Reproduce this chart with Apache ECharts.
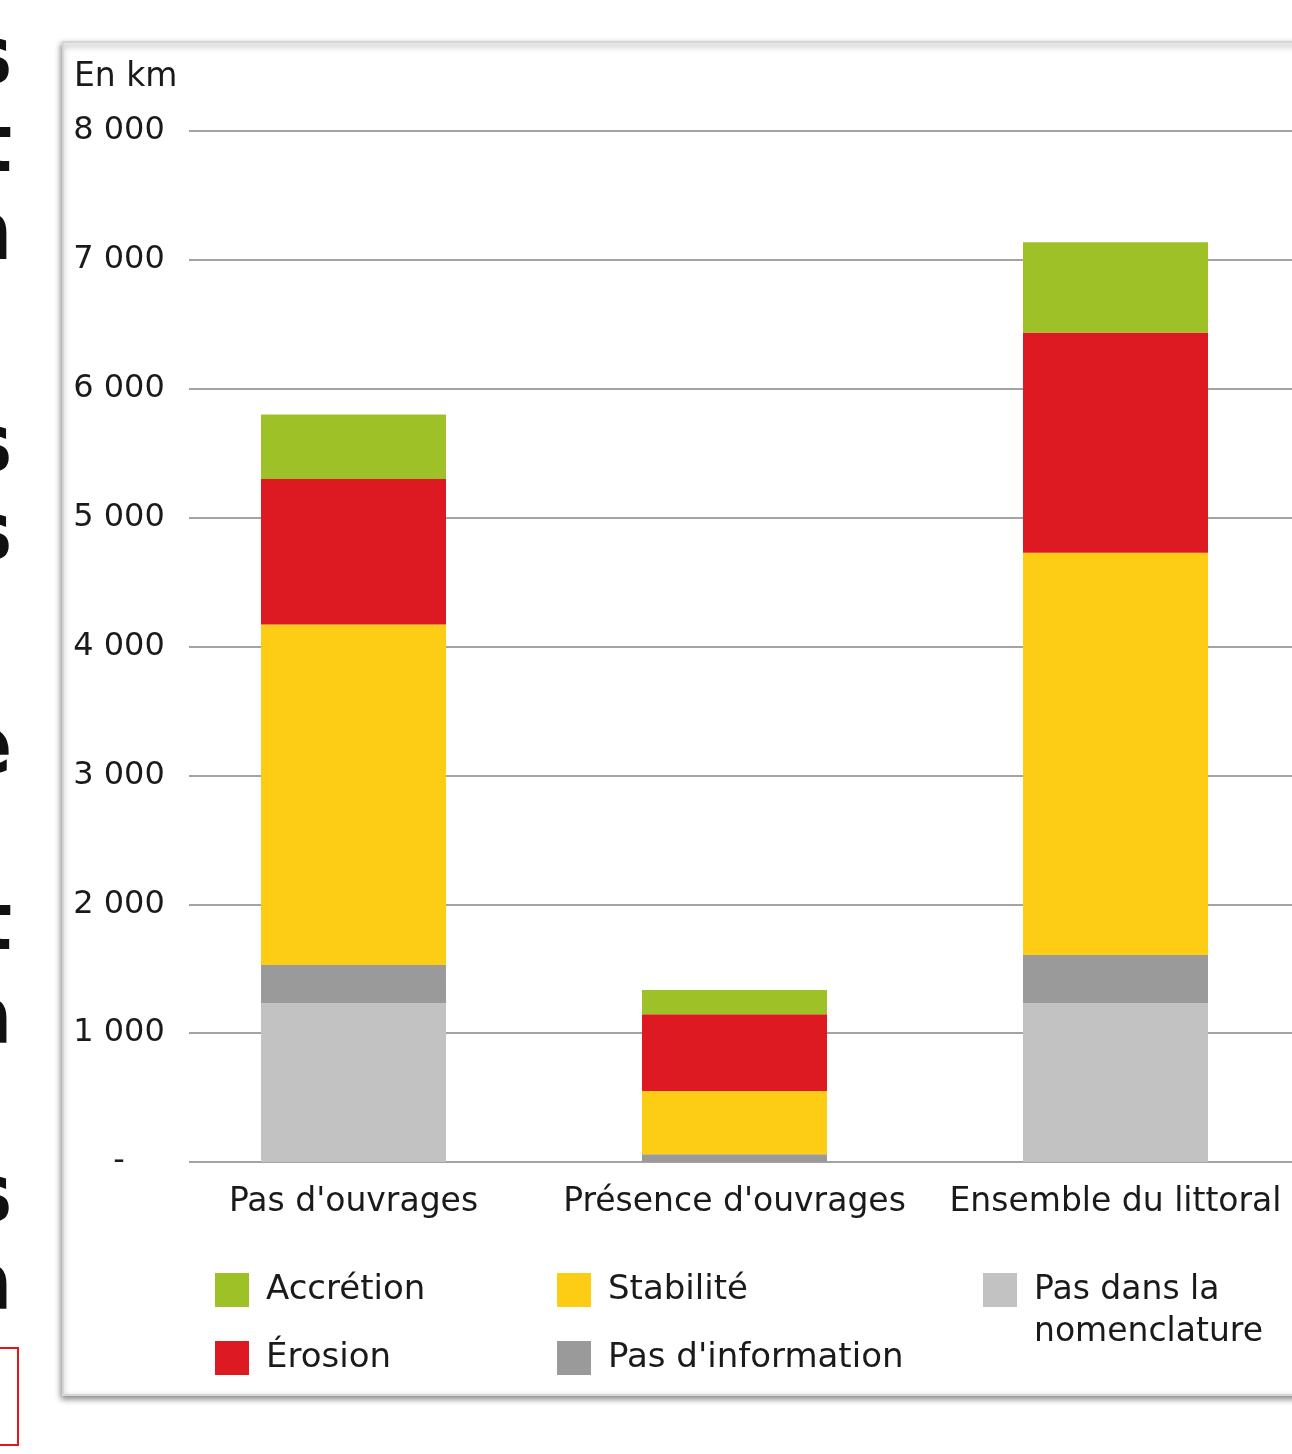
<!DOCTYPE html>
<html>
<head>
<meta charset="utf-8">
<script src="https://cdn.jsdelivr.net/npm/echarts@6/dist/echarts.min.js"></script>
<style>
  html, body { margin: 0; padding: 0; background: #ffffff; }
  #chart { width: 1292px; height: 1454px; }
</style>
</head>
<body>
<div id="chart"></div>
<script>
// Categories of coastline
const categories = ["Pas d'ouvrages", "Présence d'ouvrages", "Ensemble du littoral"];

// Lengths in km, stacked bottom to top
const pasNomenclature = [1232, 0, 1232];
const pasInformation  = [297, 60, 374];
const stabilite       = [2641, 491, 3122];
const erosion         = [1129, 595, 1708];
const accretion       = [502, 189, 700];

const yTicks = { min: 0, max: 8000, interval: 1000 };

const FONT = "'DejaVu Sans', sans-serif";
const TEXT = '#1a1a1a';

const colors = {
  accretion: '#9fc128',
  erosion: '#dd1a21',
  stabilite: '#fdcd16',
  pasInformation: '#9a9a9a',
  pasNomenclature: '#c2c2c2'
};

function thousands(v) {
  if (v === 0) return '-';
  return String(v).replace(/\B(?=(\d{3})+(?!\d))/g, ' ');
}

function bar(name, data, color) {
  return {
    name: name,
    type: 'bar',
    stack: 'total',
    xAxisIndex: 1,
    yAxisIndex: 1,
    barWidth: 185,
    data: data,
    itemStyle: { color: color },
    emphasis: { disabled: true }
  };
}

// Fragments of the surrounding page text, cut by the left edge
const marginLetters = [
  ['s', 62], ['t', 150], ['n', 238], ['s', 450], ['s', 538],
  ['e', 752], ['t', 928], ['a', 1022], ['s', 1200], ['a', 1288]
];

// Square swatch sitting on the first line of a two-line legend label
const topSwatch = 'path://M0,0H34V34H0Z M0,76L0.01,76';

const chart = echarts.init(document.getElementById('chart'), null, { renderer: 'canvas' });

const legendText = { fontFamily: FONT, fontSize: 34, color: TEXT, padding: [0, 0, 0, 12] };

const legendBase = {
  orient: 'vertical',
  padding: 0,
  itemWidth: 34,
  itemHeight: 34,
  itemGap: 34,
  icon: 'rect',
  textStyle: legendText,
  selectedMode: false
};

chart.setOption({
  backgroundColor: '#ffffff',
  animation: false,
  title: {
    text: 'En km',
    left: 74,
    top: 61,
    padding: 0,
    textStyle: { fontFamily: FONT, fontSize: 33, fontWeight: 'normal', color: TEXT }
  },
  graphic: [
    {
      type: 'rect',
      z: -10,
      shape: { x: 63, y: 42, width: 1300, height: 1353 },
      style: {
        fill: '#ffffff',
        stroke: '#d6d6d6',
        lineWidth: 2,
        shadowBlur: 6,
        shadowOffsetX: -1,
        shadowOffsetY: 3,
        shadowColor: 'rgba(0,0,0,0.45)'
      }
    },
    {
      type: 'rect',
      z: -10,
      shape: { x: -20, y: 1348, width: 38, height: 97 },
      style: { fill: 'none', stroke: '#e8141c', lineWidth: 2 }
    }
  ].concat(marginLetters.map(function (m) {
    return {
      type: 'text',
      z: -10,
      x: 12,
      y: m[1],
      style: {
        text: m[0],
        fill: '#111111',
        font: "bold 80px 'DejaVu Sans Condensed', 'DejaVu Sans', sans-serif",
        align: 'right',
        verticalAlign: 'middle'
      }
    };
  })),
  grid: [
    { left: 189, top: 131, right: 0, bottom: 292, outerBoundsMode: 'none' },
    { left: 163, top: 131, width: 1143, bottom: 292, outerBoundsMode: 'none' }
  ],
  xAxis: [
    { type: 'category', gridIndex: 0, data: categories, show: false },
    {
      type: 'category',
      gridIndex: 1,
      data: categories,
      axisLine: { show: false },
      axisTick: { show: false },
      axisLabel: { interval: 0, fontFamily: FONT, fontSize: 33, color: TEXT, margin: 24 }
    }
  ],
  yAxis: [
    {
      type: 'value',
      gridIndex: 0,
      min: yTicks.min,
      max: yTicks.max,
      interval: yTicks.interval,
      axisLine: { show: false },
      axisTick: { show: false },
      splitLine: { lineStyle: { color: '#a3a3a3', width: 2 } },
      axisLabel: {
        fontFamily: FONT,
        fontSize: 32,
        color: TEXT,
        align: 'center',
        margin: 70,
        formatter: thousands
      }
    },
    {
      type: 'value',
      gridIndex: 1,
      min: yTicks.min,
      max: yTicks.max,
      interval: yTicks.interval,
      show: false,
      splitLine: { show: false }
    }
  ],
  legend: [
    Object.assign({}, legendBase, { left: 215, top: 1273, data: ['Accrétion', 'Érosion'] }),
    Object.assign({}, legendBase, { left: 557, top: 1273, data: ['Stabilité', "Pas d'information"] }),
    Object.assign({}, legendBase, {
      left: 983,
      top: 1269,
      itemHeight: 76,
      icon: topSwatch,
      data: ['Pas dans la nomenclature'],
      formatter: function () { return 'Pas dans la\nnomenclature'; },
      textStyle: { fontFamily: FONT, fontSize: 33, color: TEXT, lineHeight: 42, padding: [0, 0, 0, 12] }
    })
  ],
  series: [
    bar('Pas dans la nomenclature', pasNomenclature, colors.pasNomenclature),
    bar("Pas d'information", pasInformation, colors.pasInformation),
    bar('Stabilité', stabilite, colors.stabilite),
    bar('Érosion', erosion, colors.erosion),
    bar('Accrétion', accretion, colors.accretion)
  ]
});
</script>
</body>
</html>
